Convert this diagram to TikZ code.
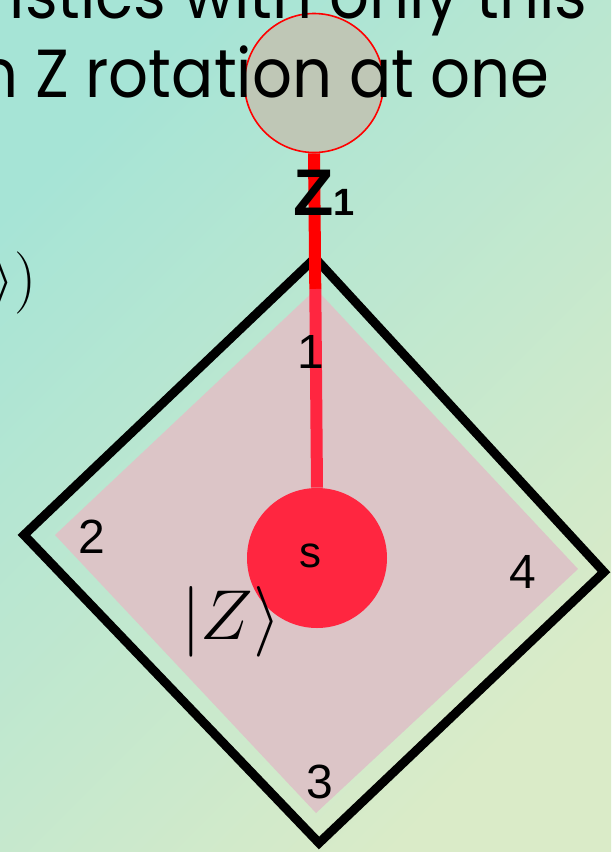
\documentclass[tikz,border=0pt]{standalone}
\usepackage{fontspec}
\setmainfont{Poppins}
\newfontfamily\arialfont{Liberation Sans}
\usetikzlibrary{positioning}

\definecolor{bgtop}{RGB}{166,228,214}
\definecolor{bgbot}{RGB}{218,235,200}
\definecolor{knobgray}{RGB}{191,199,182}
\definecolor{diskred}{RGB}{255,38,64}
\definecolor{padpink}{RGB}{220,197,199}

\begin{document}
\begin{tikzpicture}[x=.5pt,y=-.5pt,
  slidetext/.style={font=\fontsize{34}{40}\selectfont,inner sep=0pt,xscale=.92},
  mathtext/.style={font=\fontsize{24}{28}\selectfont,inner sep=0pt},
  numlabel/.style={font=\arialfont\fontsize{24}{28}\selectfont,inner sep=0pt},
  frame/.style={draw=black,line width=4.5pt,miter limit=10},
  rod/.style={line width=6pt}]
\useasboundingbox (0,0) rectangle (611,852);
\shade[top color=bgtop,bottom color=bgbot,shading angle=45] (0,0) rectangle (611,852);

% rotation knob and slide text
\node[circle,draw=red,line width=.8pt,fill=knobgray,minimum size=69.5pt,inner sep=0pt] (knob) at (314,83) {};
\node[slidetext,anchor=base east] (line1) at (588,18) {istics with only this};
\node[slidetext,anchor=base east] (line2) at (550,97) {n Z rotation at one};
\node[mathtext,scale=1.25,anchor=east] (ketend) at (37,283) {$\big\rangle)$};

% site frame
\draw[frame] (315,258) -- (604,572) -- (319,843) -- (24,535) -- cycle;
\fill[padpink] (316,289) -- (578,569) -- (316,813) -- (55,535) -- cycle;
\coordinate (padtop) at (315.3,289);

\node[circle,fill=diskred,minimum size=70pt,inner sep=0pt] (spin) at (317,558) {};
\draw[rod,red] (knob.south) -- (padtop);
\draw[rod,diskred] (padtop) -- (spin.north);

\node[font=\arialfont\fontsize{22}{24}\selectfont,inner sep=0pt] (slabel) at (310,556) {s};
\node[font=\arialfont\bfseries\fontsize{33}{36}\selectfont,anchor=base west,inner sep=0pt] (zlabel) at (293,215) {Z{\fontsize{19}{20}\selectfont 1}};

\node[numlabel] (n1) at (311,352) {1};
\node[numlabel] (n2) at (92,537) {2};
\node[numlabel] (n3) at (320,782) {3};
\node[numlabel] (n4) at (523,572) {4};

\node[mathtext,scale=1.42] (ketz) at (231,622) {$\big|Z\big\rangle$};
\end{tikzpicture}
\end{document}
